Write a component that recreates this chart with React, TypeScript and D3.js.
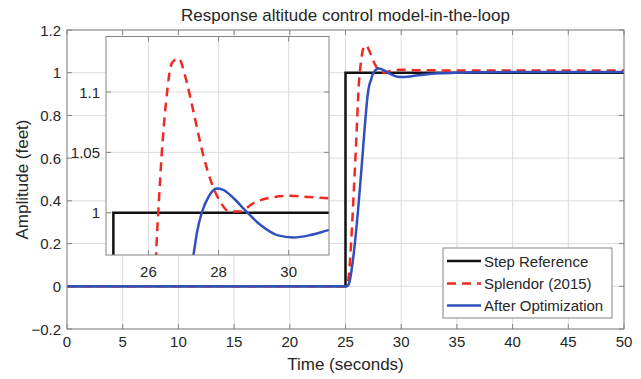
import React from "react";
import * as d3 from "d3";

const title = "Response altitude control model-in-the-loop";
const xLabel = "Time (seconds)";
const yLabel = "Amplitude (feet)";

const xTicks = [0, 5, 10, 15, 20, 25, 30, 35, 40, 45, 50];
const yTicks = [-0.2, 0, 0.2, 0.4, 0.6, 0.8, 1, 1.2];
const insetXTicks = [26, 28, 30];
const insetYTicks = [1, 1.05, 1.1];

const stepT = [0, 25, 25, 50];
const stepV = [0, 0, 1, 1];

const splendorT = [0, 25.1, 25.3, 25.5, 25.75, 25.98, 26.15, 26.22, 26.29, 26.38, 26.5, 26.67, 26.86, 27.05, 27.29, 27.57, 27.81, 28.05, 28.32, 28.6, 29.0, 29.57, 30.05, 30.6, 31.14, 33, 36, 40, 50];
const splendorV = [0, 0, 0.05, 0.2, 0.45, 0.7, 0.9, 0.966, 1.005, 1.049, 1.091, 1.124, 1.128, 1.113, 1.083, 1.047, 1.024, 1.009, 1.001, 1.001, 1.008, 1.013, 1.014, 1.013, 1.012, 1.011, 1.01, 1.01, 1.01];

const optT = [0, 25.1, 25.3, 25.7, 26.15, 26.45, 26.75, 27.0, 27.15, 27.29, 27.38, 27.52, 27.71, 27.95, 28.13, 28.43, 28.76, 29.19, 29.67, 30.14, 30.62, 31.14, 32, 33.5, 35, 37, 40, 50];
const optV = [0, 0, 0.01, 0.137, 0.37, 0.56, 0.76, 0.9, 0.945, 0.966, 0.983, 1.0, 1.013, 1.02, 1.019, 1.012, 1.002, 0.99, 0.9815, 0.9795, 0.9815, 0.9856, 0.991, 0.997, 1.0, 1.002, 1.003, 1.003];

const legendLabels = ["Step Reference", "Splendor (2015)", "After Optimization"];

const FONT = "'Liberation Sans', Arial, Helvetica, sans-serif";
const RED = "#ee2a24";
const BLUE = "#3250bd";
const BLACK = "#111111";
const GRID = "#dcdcdc";
const FRAME = "#858585";
const TXT = "#262626";

type Pt = [number, number];
const zip = (t: number[], v: number[]): Pt[] => t.map((x, i) => [x, v[i]]);

export default function App() {
  const W = 641, H = 379;
  const m = { l: 67, r: 624, t: 30, b: 329 };
  const x = d3.scaleLinear().domain([0, 50]).range([m.l, m.r]);
  const y = d3.scaleLinear().domain([-0.2, 1.2]).range([m.b, m.t]);

  const ins = { l: 106, r: 329, t: 36.5, b: 255 };
  const ix = d3.scaleLinear().domain([24.79, 31.15]).range([ins.l, ins.r]);
  const iy = d3.scaleLinear().domain([0.965, 1.146]).range([ins.b, ins.t]);

  const stepLine = (sx: any, sy: any) => d3.line<Pt>().x(d => sx(d[0])).y(d => sy(d[1]))(zip(stepT, stepV)) || "";
  const smooth = (sx: any, sy: any, t: number[], v: number[]) =>
    d3.line<Pt>().x(d => sx(d[0])).y(d => sy(d[1])).curve(d3.curveMonotoneX)(zip(t, v)) || "";

  const tickLen = 5;

  const legend = { l: 443, r: 612, t: 248, b: 318 };
  const legendY = [261, 283.5, 305.5];
  const legendStyles = [
    { stroke: BLACK, dash: undefined as string | undefined },
    { stroke: RED, dash: "9,6" },
    { stroke: BLUE, dash: undefined },
  ];

  return (
    <svg width={W} height={H} style={{ position: "absolute", left: 0, top: 0, background: "#fff" }} fontFamily={FONT}>
      <rect x={0} y={0} width={W} height={H} fill="#fff" />
      <defs>
        <clipPath id="mainClip"><rect x={m.l} y={m.t} width={m.r - m.l} height={m.b - m.t} /></clipPath>
        <clipPath id="insClip"><rect x={ins.l} y={ins.t} width={ins.r - ins.l} height={ins.b - ins.t} /></clipPath>
      </defs>
      {/* main grid */}
      {xTicks.map(t => (
        <line key={"gx" + t} x1={x(t)} x2={x(t)} y1={m.t} y2={m.b} stroke={GRID} strokeWidth={1} />
      ))}
      {yTicks.map(t => (
        <line key={"gy" + t} x1={m.l} x2={m.r} y1={y(t)} y2={y(t)} stroke={GRID} strokeWidth={1} />
      ))}
      {/* main ticks */}
      {xTicks.map(t => (
        <g key={"tx" + t}>
          <line x1={x(t)} x2={x(t)} y1={m.b} y2={m.b - tickLen} stroke={FRAME} />
          <line x1={x(t)} x2={x(t)} y1={m.t} y2={m.t + tickLen} stroke={FRAME} />
          <text x={x(t)} y={m.b + 18} textAnchor="middle" fontSize={15} fill={TXT}>{t}</text>
        </g>
      ))}
      {yTicks.map(t => (
        <g key={"ty" + t}>
          <line x1={m.l} x2={m.l + tickLen} y1={y(t)} y2={y(t)} stroke={FRAME} />
          <line x1={m.r} x2={m.r - tickLen} y1={y(t)} y2={y(t)} stroke={FRAME} />
          <text x={m.l - 6} y={y(t) + 5.5} textAnchor="end" fontSize={15} fill={TXT}>{d3.format("")(+t.toFixed(1))}</text>
        </g>
      ))}
      {/* main lines */}
      <g clipPath="url(#mainClip)">
        <path d={stepLine(x, y)} fill="none" stroke={BLACK} strokeWidth={2.5} />
        <path d={smooth(x, y, splendorT, splendorV)} fill="none" stroke={RED} strokeWidth={2.5} strokeDasharray="9,6" />
        <path d={smooth(x, y, optT, optV)} fill="none" stroke={BLUE} strokeWidth={2.5} />
      </g>
      <rect x={m.l} y={m.t} width={m.r - m.l} height={m.b - m.t} fill="none" stroke={FRAME} strokeWidth={1} />

      {/* inset */}
      <rect x={ins.l} y={ins.t} width={ins.r - ins.l} height={ins.b - ins.t} fill="#fff" />
      {insetXTicks.map(t => (
        <line key={"igx" + t} x1={ix(t)} x2={ix(t)} y1={ins.t} y2={ins.b} stroke={GRID} />
      ))}
      {insetYTicks.map(t => (
        <line key={"igy" + t} x1={ins.l} x2={ins.r} y1={iy(t)} y2={iy(t)} stroke={GRID} />
      ))}
      {insetXTicks.map(t => (
        <g key={"itx" + t}>
          <line x1={ix(t)} x2={ix(t)} y1={ins.b} y2={ins.b - tickLen} stroke={FRAME} />
          <line x1={ix(t)} x2={ix(t)} y1={ins.t} y2={ins.t + tickLen} stroke={FRAME} />
          <text x={ix(t)} y={ins.b + 22} textAnchor="middle" fontSize={15} fill={TXT}>{t}</text>
        </g>
      ))}
      {insetYTicks.map(t => (
        <g key={"ity" + t}>
          <line x1={ins.l} x2={ins.l + tickLen} y1={iy(t)} y2={iy(t)} stroke={FRAME} />
          <line x1={ins.r} x2={ins.r - tickLen} y1={iy(t)} y2={iy(t)} stroke={FRAME} />
          <text x={ins.l - 6} y={iy(t) + 5.5} textAnchor="end" fontSize={15} fill={TXT}>{t}</text>
        </g>
      ))}
      <g clipPath="url(#insClip)">
        <path d={stepLine(ix, iy)} fill="none" stroke={BLACK} strokeWidth={2.5} />
        <path d={smooth(ix, iy, splendorT, splendorV)} fill="none" stroke={RED} strokeWidth={2.5} strokeDasharray="9,6" />
        <path d={smooth(ix, iy, optT, optV)} fill="none" stroke={BLUE} strokeWidth={2.5} />
      </g>
      <rect x={ins.l} y={ins.t} width={ins.r - ins.l} height={ins.b - ins.t} fill="none" stroke={FRAME} strokeWidth={1} />

      {/* legend */}
      <rect x={legend.l} y={legend.t} width={legend.r - legend.l} height={legend.b - legend.t} fill="#fff" stroke={FRAME} strokeWidth={1} />
      {legendLabels.map((lab, i) => (
        <g key={lab}>
          <line x1={447} x2={481} y1={legendY[i]} y2={legendY[i]} stroke={legendStyles[i].stroke} strokeWidth={2.5} strokeDasharray={legendStyles[i].dash} />
          <text x={484} y={legendY[i] + 5.5} fontSize={15} fill={TXT}>{lab}</text>
        </g>
      ))}

      {/* labels */}
      <text x={(m.l + m.r) / 2} y={21} textAnchor="middle" fontSize={17} fill={TXT}>{title}</text>
      <text x={(m.l + m.r) / 2} y={370} textAnchor="middle" fontSize={17} fill={TXT}>{xLabel}</text>
      <text transform={`translate(28,${(m.t + m.b) / 2}) rotate(-90)`} textAnchor="middle" fontSize={17} fill={TXT}>{yLabel}</text>
    </svg>
  );
}
